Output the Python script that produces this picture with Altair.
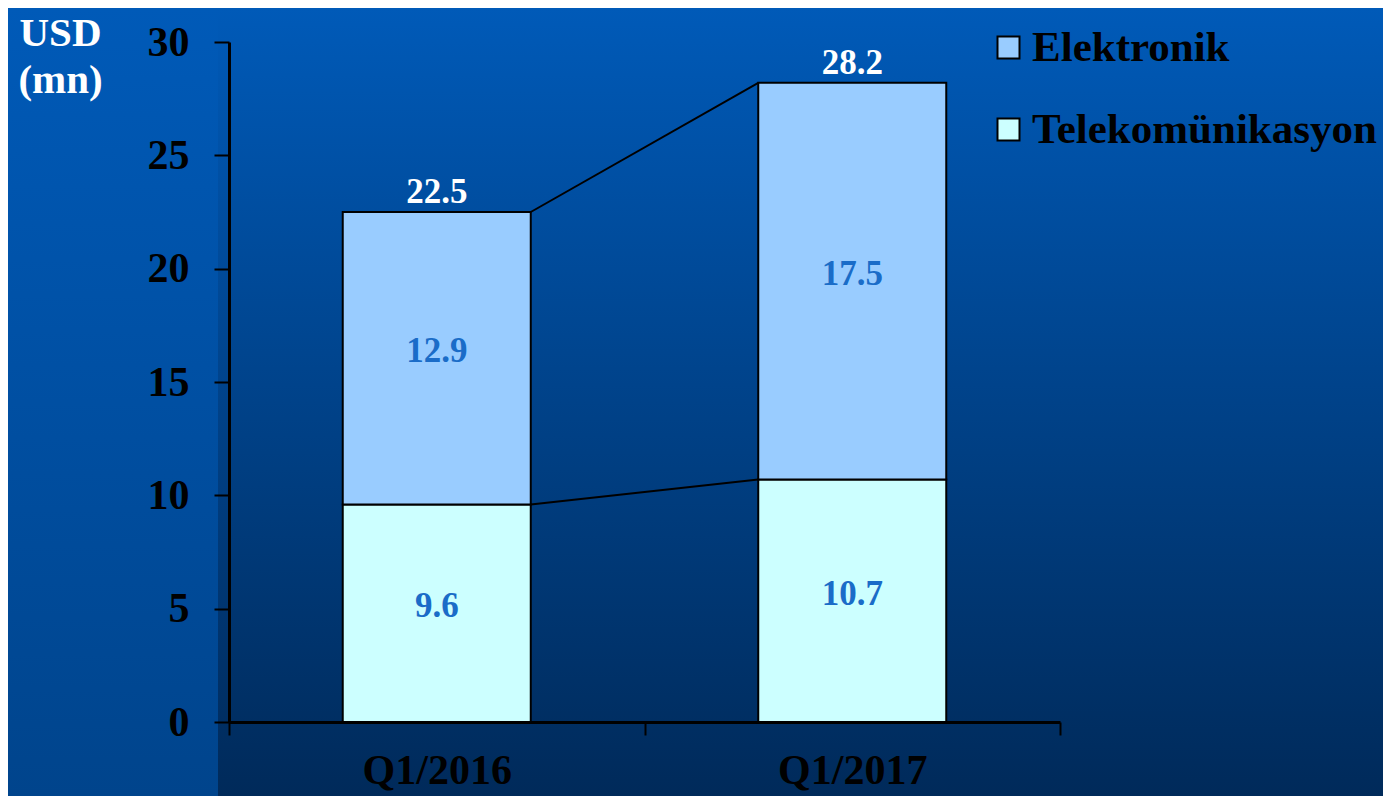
import altair as alt
import pandas as pd

# ---- data ----
periods = ["Q1/2016", "Q1/2017"]
series_names = ["Elektronik", "Telekomünikasyon"]
telekom = [9.6, 10.7]
elektronik = [12.9, 17.5]
totals = [22.5, 28.2]
y_ticks = [0, 5, 10, 15, 20, 25, 30]
bar_colors = ["#99ccff", "#ccffff"]

rows = []
for i, p in enumerate(periods):
    rows.append({"period": p, "series": "Telekomünikasyon", "value": telekom[i], "ord": 0})
    rows.append({"period": p, "series": "Elektronik", "value": elektronik[i], "ord": 1})
df = pd.DataFrame(rows)
df_tot = pd.DataFrame({"period": periods, "total": totals})
df_conn = pd.DataFrame({
    "p_from": [periods[0], periods[0]],
    "p_to": [periods[1], periods[1]],
    "ya": [totals[0], telekom[0]],
    "yb": [totals[1], telekom[1]],
})
df_one = pd.DataFrame({"a": [0]})

FONT = "Liberation Serif"

W, H = 831, 680
PL, PT, PR, PB = 221, 34, 323, 74
BAR_FRAC = 0.4525
HALF_BAR = W / 2 * BAR_FRAC / 2

xscale = alt.Scale(domain=periods, paddingInner=0, paddingOuter=0)
yscale = alt.Scale(domain=[0, 30], nice=False, zero=True)

# ---- backgrounds ----
bg_full = alt.Chart(df_one).mark_rect(
    fill=alt.LinearGradient(
        gradient="linear", x1=0, x2=0, y1=0, y2=1,
        stops=[alt.GradientStop(color="#005ab8", offset=0),
               alt.GradientStop(color="#00448c", offset=1)]),
).encode(x=alt.value(-PL), x2=alt.value(W + PR), y=alt.value(-PT), y2=alt.value(H + PB))

bg_plot = alt.Chart(df_one).mark_rect(
    fill=alt.LinearGradient(
        gradient="linear", x1=0, x2=0, y1=0, y2=1,
        stops=[alt.GradientStop(color="#005ab8", offset=0),
               alt.GradientStop(color="#002a5a", offset=1)]),
).encode(x=alt.value(-11), x2=alt.value(W + PR), y=alt.value(-PT), y2=alt.value(H + PB))

stacked = alt.Chart(df).transform_stack(
    stack="value", as_=["y0", "y1"], groupby=["period"],
    sort=[alt.SortField("ord", order="ascending")],
)

bars = stacked.mark_bar(stroke="black", strokeWidth=2,
                        width=alt.RelativeBandSize(BAR_FRAC)).encode(
    x=alt.X("period:N", scale=xscale, sort=periods,
            axis=alt.Axis(title=None, labelAngle=0, tickBand="extent", tickSize=13,
                          tickWidth=2, tickColor="black", domainColor="black", domainWidth=3,
                          labelFont=FONT, labelFontWeight="bold", labelFontSize=42,
                          labelColor="black", labelPadding=15, grid=False, zindex=1)),
    y=alt.Y("y0:Q", scale=yscale,
            axis=alt.Axis(values=y_ticks, tickSize=15, tickWidth=2, tickColor="black",
                          domainColor="black", domainWidth=3, labelPadding=25,
                          labelFont=FONT, labelFontWeight="bold", labelFontSize=42,
                          labelColor="black", labelBaseline="middle", grid=False, zindex=1,
                          title=["USD", "(mn)"], titleFont=FONT, titleFontWeight="bold",
                          titleFontSize=41, titleColor="white", titleAngle=0,
                          titleAlign="center", titleBaseline="alphabetic",
                          titleX=-169, titleY=3, titleLineHeight=47)),
    y2="y1:Q",
    color=alt.Color("series:N", scale=alt.Scale(domain=series_names, range=bar_colors),
                    legend=alt.Legend(orient="none", legendX=758, legendY=-16, title=None,
                                      symbolType="square", symbolSize=484,
                                      symbolStrokeColor="black", symbolStrokeWidth=2,
                                      labelFont=FONT, labelFontWeight="bold",
                                      labelFontSize=43, labelColor="black", labelLimit=0,
                                      labelOffset=2, rowPadding=38, zindex=1)),
)

seg_labels = stacked.transform_calculate(mid="(datum.y0 + datum.y1) / 2").mark_text(
    font=FONT, fontWeight="bold", fontSize=35, color="#1a6cc8", baseline="middle", dy=-7,
).encode(x=alt.X("period:N", scale=xscale, sort=periods), y=alt.Y("mid:Q", scale=yscale),
         text=alt.Text("value:Q", format=".1f"))

tot_labels = alt.Chart(df_tot).mark_text(
    font=FONT, fontWeight="bold", fontSize=35, color="white", baseline="alphabetic", dy=-9,
).encode(x=alt.X("period:N", scale=xscale, sort=periods), y=alt.Y("total:Q", scale=yscale),
         text=alt.Text("total:Q", format=".1f"))

conn = alt.Chart(df_conn).mark_rule(color="black", strokeWidth=2,
                                    xOffset=HALF_BAR, x2Offset=-HALF_BAR).encode(
    x=alt.X("p_from:N", scale=xscale, bandPosition=0.5),
    x2=alt.X2("p_to:N", bandPosition=0.5),
    y=alt.Y("ya:Q", scale=yscale),
    y2="yb:Q",
)

chart = alt.layer(bg_full, bg_plot, bars, conn, seg_labels, tot_labels).properties(
    width=W, height=H,
    autosize=alt.AutoSizeParams(type="none"),
    padding={"left": PL, "top": PT, "right": PR, "bottom": PB},
).configure_view(strokeWidth=0)

chart.save("out.html", embed_options={"renderer": "svg", "actions": False})
